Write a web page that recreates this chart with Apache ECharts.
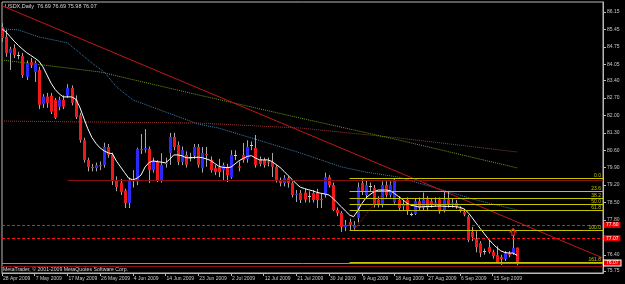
<!DOCTYPE html>
<html>
<head>
<meta charset="utf-8">
<script src="https://cdn.jsdelivr.net/npm/echarts@6/dist/echarts.min.js"></script>
<style>
html, body { margin: 0; padding: 0; background: #000; }
#chart-container { width: 625px; height: 284px; }
</style>
</head>
<body>
<div id="chart-container"></div>
<script>
// USDX daily, 28 Apr - 22 Sep 2009 (Sunday bars included, as in MetaTrader)
const dates = [
  '28 Apr 2009','29 Apr 2009','30 Apr 2009','1 May 2009','3 May 2009','4 May 2009','5 May 2009','6 May 2009',
  '7 May 2009','8 May 2009','10 May 2009','11 May 2009','12 May 2009','13 May 2009','14 May 2009','15 May 2009',
  '17 May 2009','18 May 2009','19 May 2009','20 May 2009','21 May 2009','22 May 2009','24 May 2009','25 May 2009',
  '26 May 2009','27 May 2009','28 May 2009','29 May 2009','31 May 2009','1 Jun 2009','2 Jun 2009','3 Jun 2009',
  '4 Jun 2009','5 Jun 2009','7 Jun 2009','8 Jun 2009','9 Jun 2009','10 Jun 2009','11 Jun 2009','12 Jun 2009',
  '14 Jun 2009','15 Jun 2009','16 Jun 2009','17 Jun 2009','18 Jun 2009','19 Jun 2009','21 Jun 2009','22 Jun 2009',
  '23 Jun 2009','24 Jun 2009','25 Jun 2009','26 Jun 2009','28 Jun 2009','29 Jun 2009','30 Jun 2009','1 Jul 2009',
  '2 Jul 2009','3 Jul 2009','5 Jul 2009','6 Jul 2009','7 Jul 2009','8 Jul 2009','9 Jul 2009','10 Jul 2009',
  '12 Jul 2009','13 Jul 2009','14 Jul 2009','15 Jul 2009','16 Jul 2009','17 Jul 2009','19 Jul 2009','20 Jul 2009',
  '21 Jul 2009','22 Jul 2009','23 Jul 2009','24 Jul 2009','26 Jul 2009','27 Jul 2009','28 Jul 2009','29 Jul 2009',
  '30 Jul 2009','31 Jul 2009','2 Aug 2009','3 Aug 2009','4 Aug 2009','5 Aug 2009','6 Aug 2009','7 Aug 2009',
  '9 Aug 2009','10 Aug 2009','11 Aug 2009','12 Aug 2009','13 Aug 2009','14 Aug 2009','16 Aug 2009','17 Aug 2009',
  '18 Aug 2009','19 Aug 2009','20 Aug 2009','21 Aug 2009','23 Aug 2009','24 Aug 2009','25 Aug 2009','26 Aug 2009',
  '27 Aug 2009','28 Aug 2009','30 Aug 2009','31 Aug 2009','1 Sep 2009','2 Sep 2009','3 Sep 2009','4 Sep 2009',
  '6 Sep 2009','7 Sep 2009','8 Sep 2009','9 Sep 2009','10 Sep 2009','11 Sep 2009','13 Sep 2009','14 Sep 2009',
  '15 Sep 2009','16 Sep 2009','17 Sep 2009','18 Sep 2009','20 Sep 2009','21 Sep 2009','22 Sep 2009'
];
const emptySlots = 21; // chart shift on the right

// [open, close, low, high]
const candles = [
  [85.55,85.10,84.95,85.70],[85.15,84.50,84.35,85.43],[84.50,84.66,83.82,84.75],[84.70,84.42,84.30,84.85],
  [84.42,84.38,84.25,84.55],[84.38,83.62,83.50,84.50],[83.55,84.10,83.42,84.20],[84.14,84.02,83.90,84.30],
  [83.74,84.10,83.34,84.20],[83.82,82.42,82.25,83.95],[82.45,82.75,82.30,82.85],[82.75,82.50,82.30,82.90],
  [82.78,82.15,82.05,82.90],[82.62,81.90,81.85,82.70],[82.35,82.62,82.20,82.75],[82.62,82.35,82.25,82.80],
  [82.80,83.10,82.70,83.25],[83.10,82.50,82.40,83.20],[82.62,81.93,81.85,82.80],[82.00,81.00,80.90,82.10],
  [81.00,80.21,80.10,81.10],[80.21,79.93,79.75,80.30],[79.93,79.88,79.75,80.05],[79.88,80.00,79.75,80.10],
  [80.00,79.95,79.80,80.15],[80.01,80.73,79.90,80.90],[80.73,80.41,80.30,80.85],[80.41,79.40,79.20,80.50],
  [79.40,79.12,78.95,79.55],[79.30,78.92,78.80,79.45],[78.98,78.48,78.28,79.05],[78.48,79.40,78.28,79.50],
  [79.40,79.35,79.10,79.80],[79.33,80.65,79.20,80.70],[80.65,80.60,80.45,81.25],[80.62,80.68,80.50,81.45],
  [80.65,79.80,79.28,80.75],[79.80,80.13,79.70,80.30],[80.13,79.40,79.32,80.20],[79.40,80.01,79.30,80.48],
  [80.05,80.10,79.90,80.30],[80.49,81.13,80.01,81.29],[81.13,80.73,80.60,81.30],[80.81,80.13,80.00,80.95],
  [80.13,80.61,80.00,80.75],[80.41,80.01,79.90,80.55],[80.33,80.30,80.15,80.50],[80.37,80.73,80.25,80.85],
  [80.73,80.01,79.90,80.85],[79.88,80.49,79.70,80.73],[80.45,80.40,79.93,80.73],[80.21,79.80,79.70,80.35],
  [79.88,79.72,79.60,80.00],[79.93,79.72,79.52,80.25],[79.80,80.00,79.40,80.10],[79.93,79.60,79.32,80.05],
  [79.52,80.41,79.45,80.60],[80.41,80.38,80.20,80.60],[79.95,79.90,79.75,80.15],[80.41,80.21,80.10,80.89],
  [80.25,80.73,80.10,81.00],[80.81,80.77,80.60,80.95],[80.69,80.01,79.90,81.21],[80.25,80.05,79.95,80.35],
  [80.21,80.01,79.90,80.30],[80.15,80.10,79.95,80.30],[80.13,79.93,79.52,80.49],[79.93,79.40,79.30,80.00],
  [79.40,79.28,79.15,79.50],[79.28,79.48,79.15,79.60],[79.48,79.28,79.10,79.55],[79.28,78.80,78.70,79.35],
  [78.80,78.85,78.52,79.00],[78.88,78.60,78.48,79.00],[78.90,78.62,78.50,79.05],[78.75,78.72,78.50,78.95],
  [78.88,78.60,78.50,79.00],[78.90,78.60,78.28,79.05],[78.65,78.60,78.28,78.85],[78.80,79.52,78.70,79.70],
  [79.52,79.20,79.10,79.60],[79.20,78.20,78.15,79.30],[78.20,78.08,77.95,78.30],[78.08,77.52,77.32,78.15],
  [77.52,77.60,77.35,77.80],[77.72,77.60,77.40,77.85],[77.48,77.60,77.39,77.75],[77.88,79.12,77.70,79.30],
  [79.28,78.92,78.80,79.44],[78.80,79.20,78.70,79.40],[79.12,79.15,78.95,79.30],[79.08,78.40,78.30,79.20],
  [78.60,78.40,78.30,78.75],[78.40,79.20,78.30,79.35],[79.20,78.80,78.70,79.35],[78.80,79.20,78.70,79.35],
  [78.52,79.40,78.45,79.46],[78.60,78.28,78.20,78.75],[78.35,78.40,78.20,78.60],[78.60,78.20,78.00,78.70],
  [78.02,78.00,77.95,78.10],[78.05,78.55,78.00,78.65],[78.55,78.30,78.20,78.70],[78.30,78.62,78.20,78.90],
  [78.62,78.30,78.20,78.75],[78.55,78.40,78.30,78.66],[78.45,78.50,78.35,78.70],[78.62,78.15,78.05,78.70],
  [78.20,78.62,78.10,78.97],[78.62,78.40,78.30,78.97],[78.45,78.50,78.30,78.66],[78.48,78.33,78.25,78.60],
  [78.27,78.20,78.10,78.35],[78.12,78.02,77.95,78.25],[77.93,76.99,76.91,78.00],[77.32,77.12,76.95,77.52],
  [77.03,76.71,76.50,77.35],[76.87,76.47,76.31,76.95],[76.55,76.52,76.40,76.65],[76.71,76.51,76.45,76.99],
  [76.51,76.35,76.25,76.60],[76.39,76.11,76.03,76.75],[76.31,76.23,75.99,76.40],[76.23,76.47,76.15,76.55],
  [76.45,76.40,76.30,76.55],[76.47,76.67,76.40,77.20],[76.69,76.07,75.98,76.69]
];

// short moving average (white)
const fastMA = [
  85.47,85.34,85.16,84.97,84.81,84.66,84.52,84.41,84.30,84.18,
  83.95,83.62,83.29,83.04,82.86,82.74,82.74,82.74,82.66,82.34,
  81.89,81.46,81.11,80.87,80.69,80.57,80.49,80.46,80.16,79.93,
  79.70,79.47,79.41,79.47,79.60,79.93,80.11,80.17,80.14,80.12,
  80.09,80.23,80.41,80.41,80.38,80.30,80.29,80.31,80.32,80.30,
  80.25,80.19,80.07,79.96,79.91,79.90,79.92,80.05,80.18,80.27,
  80.35,80.38,80.29,80.21,80.21,80.21,80.15,80.03,79.91,79.75,
  79.58,79.42,79.25,79.11,79.06,79.01,78.97,78.91,78.87,78.84,
  78.80,78.66,78.49,78.33,78.16,78.00,77.93,78.17,78.45,78.68,
  78.82,78.93,79.00,79.00,79.00,78.97,78.86,78.74,78.62,78.48,
  78.39,78.36,78.32,78.33,78.34,78.34,78.35,78.36,78.35,78.34,
  78.34,78.33,78.31,78.24,78.10,77.89,77.67,77.45,77.24,77.03,
  76.85,76.69,76.56,76.49,76.47,76.47,76.38
];

// slow moving averages, [bar index, value]
const blueMA = [[0,85.47],[4,85.43],[9,85.15],[16,84.91],[22,84.10],[25,83.74],[28,83.14],[32,82.62],
  [48,81.65],[53,81.49],[65,80.89],[73,80.49],[83,79.93],[89,79.72],[97,79.52],[116,78.60],[126,78.20]];
const greenMA = [[0,84.22],[24,83.74],[48,82.82],[73,81.89],[97,81.01],[126,79.89]];
const brownMA = [[0,81.77],[48,81.69],[73,81.49],[97,81.09],[126,80.53]];

// drawn objects
const trendLine = [[0, 86.40], [147, 76.27]];
const resistance = { from: 16, value: 79.40 };
const dashedLevels = [77.60, 77.07];
const bidPrice = 76.07;
const supportLow = 75.95;
const fibLevels = [['0.0',79.46],['23.6',78.96],['38.2',78.66],['50.0',78.42],['61.8',78.18],['100.0',77.39],['161.8',76.11]];
const fibStart = 85;
const fibTrend = [[86, 77.39], [96, 79.46]];
const fractalUp = [125, 77.32];

const yTicks = [86.15, 85.45, 84.75, 84.05, 83.40, 82.70, 82.00, 81.30, 80.60, 79.90, 79.20, 78.50, 77.80, 76.40, 75.75];

const bullColor = '#2a2aff';
const bearColor = '#f01818';
const wickColor = '#a8a8a8';
const fibColor = '#c4c400';
const font = "'Liberation Sans', sans-serif";

var categories = dates.concat(new Array(emptySlots).fill(''));
var lastIndex = categories.length - 1;

var dom = document.getElementById('chart-container');
var myChart = echarts.init(dom, null, { renderer: 'canvas' });

function renderCandle(params, api) {
  var i = api.value(0);
  var o = api.value(1), c = api.value(2), l = api.value(3), h = api.value(4);
  var pO = api.coord([i, o]);
  var pC = api.coord([i, c]);
  var pL = api.coord([i, l]);
  var pH = api.coord([i, h]);
  var x = Math.round(pO[0]) + 0.5;
  var top = Math.min(pO[1], pC[1]);
  var bot = Math.max(pO[1], pC[1]);
  var body;
  if (bot - top < 1) {
    body = { type: 'line', shape: { x1: x - 1.5, y1: Math.round(top) + 0.5, x2: x + 1.5, y2: Math.round(top) + 0.5 }, style: { stroke: '#d0d0d0', lineWidth: 1 } };
  } else {
    body = { type: 'rect', shape: { x: x - 1.5, y: top, width: 3, height: bot - top }, style: { fill: c >= o ? bullColor : bearColor } };
  }
  return {
    type: 'group',
    children: [
      { type: 'line', shape: { x1: x, y1: pH[1], x2: x, y2: pL[1] }, style: { stroke: wickColor, lineWidth: 1 } },
      body
    ]
  };
}

var markLines = [];
dashedLevels.forEach(function (v) {
  markLines.push({
    yAxis: v,
    lineStyle: { color: '#ff1010', type: [3, 2], width: 1 },
    label: { show: true, position: 'end', distance: 1, formatter: v.toFixed(2), color: '#ffffff', backgroundColor: '#e80000', padding: [1, 2, 0, 2], fontSize: 5, fontFamily: font }
  });
});
markLines.push({
  yAxis: supportLow,
  lineStyle: { color: '#8a1010', type: 'solid', width: 1 },
  label: { show: false }
});
markLines.push({
  yAxis: bidPrice,
  lineStyle: { color: '#909090', type: 'solid', width: 1 },
  label: { show: true, position: 'end', distance: 1, formatter: bidPrice.toFixed(2), color: '#ffffff', backgroundColor: '#e80000', borderColor: '#ffffff', borderWidth: 1, padding: [0, 2, 0, 2], fontSize: 5, fontFamily: font }
});
markLines.push([
  { coord: [resistance.from, resistance.value], lineStyle: { color: '#8a1010', type: 'solid', width: 1 }, label: { show: false } },
  { coord: [lastIndex, resistance.value] }
]);
fibLevels.forEach(function (f) {
  markLines.push([
    { coord: [fibStart, f[1]], lineStyle: { color: fibColor, type: 'solid', width: 1 },
      label: { show: true, position: 'insideEndTop', distance: [2, 0], formatter: f[0], color: fibColor, fontSize: 5, fontFamily: font } },
    { coord: [lastIndex, f[1]] }
  ]);
});
markLines.push([
  { coord: fibTrend[0], lineStyle: { color: '#b01010', type: 'dotted', width: 1 }, label: { show: false } },
  { coord: fibTrend[1] }
]);

var option = {
  animation: false,
  backgroundColor: '#000000',
  grid: { left: 2, right: 22, top: 2, bottom: 11, show: true, borderColor: '#b8b8b8', borderWidth: 1 },
  xAxis: {
    type: 'category',
    data: categories,
    boundaryGap: false,
    axisLine: { show: true, lineStyle: { color: '#b8b8b8' } },
    axisTick: {
      show: true, length: 3, lineStyle: { color: '#b8b8b8' },
      interval: function (idx) { return idx % 8 === 0 && idx <= 120; }
    },
    axisLabel: {
      interval: function (idx) { return idx % 8 === 0 && idx <= 120; },
      align: 'left', margin: 3, padding: [0, 0, 0, 1],
      color: '#c8c8c8', fontSize: 5, fontFamily: font
    },
    splitLine: { show: false }
  },
  yAxis: {
    type: 'value',
    position: 'right',
    min: 75.67,
    max: 86.55,
    axisLine: { show: true, lineStyle: { color: '#b8b8b8' } },
    axisTick: { show: true, length: 3, customValues: yTicks, lineStyle: { color: '#b8b8b8' } },
    axisLabel: {
      customValues: yTicks, margin: 4, color: '#c8c8c8', fontSize: 5, fontFamily: font,
      formatter: function (v) { return v.toFixed(2); }
    },
    splitLine: { show: false }
  },
  graphic: [
    { type: 'text', left: 5, top: 3, style: { text: 'USDX,Daily  76.69 76.69 75.98 76.07', fill: '#d8d8d8', fontSize: 5.5, fontFamily: font } },
    { type: 'text', left: 3, top: 267, style: { text: 'MetaTrader, \u00a9 2001-2009 MetaQuotes Software Corp.', fill: '#d8d8d8', fontSize: 5.2, fontFamily: font } }
  ],
  series: [
    { name: 'MA brown', type: 'line', data: brownMA, showSymbol: false, symbol: 'none', lineStyle: { color: '#9a3a34', width: 1, type: 'dotted' }, z: 2 },
    { name: 'MA green', type: 'line', data: greenMA, showSymbol: false, symbol: 'none', lineStyle: { color: '#6e9a18', width: 1, type: 'dotted' }, z: 2 },
    { name: 'MA blue', type: 'line', data: blueMA, showSymbol: false, symbol: 'none', lineStyle: { color: '#3f7fb0', width: 1, type: 'dotted' }, z: 2 },
    { name: 'Trend', type: 'line', data: trendLine, showSymbol: false, symbol: 'none', lineStyle: { color: '#c41818', width: 1 }, z: 2 },
    {
      name: 'USDX', type: 'custom', renderItem: renderCandle, clip: true,
      encode: { x: 0, y: [1, 2, 3, 4] },
      data: candles.map(function (c, i) { return [i, c[0], c[1], c[2], c[3]]; }),
      z: 3
    },
    {
      name: 'MA fast', type: 'line', data: fastMA, showSymbol: false, symbol: 'none',
      lineStyle: { color: '#ffffff', width: 1 }, z: 4,
      markLine: { silent: true, symbol: ['none', 'none'], animation: false, data: markLines },
      markPoint: {
        silent: true, symbol: 'path://M5,0 L10,5 L7,5 L7,10 L3,10 L3,5 L0,5 Z', symbolSize: [6, 7],
        itemStyle: { color: 'rgba(0,0,0,0)', borderColor: '#ff2020', borderWidth: 1 },
        label: { show: false },
        data: [{ coord: fractalUp }]
      }
    }
  ]
};

myChart.setOption(option);
window.addEventListener('resize', myChart.resize);
</script>
</body>
</html>
